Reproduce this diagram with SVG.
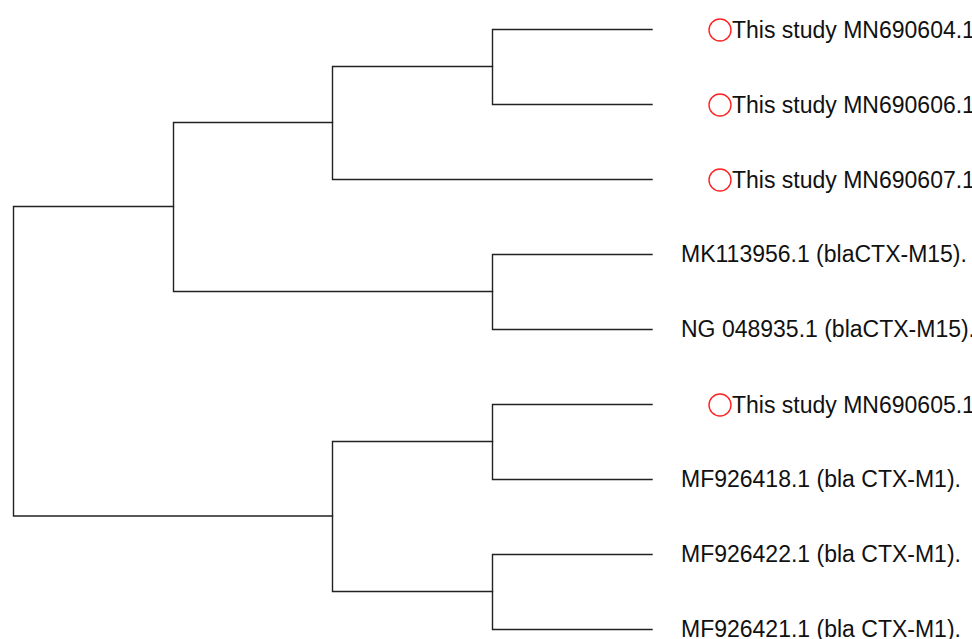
<svg xmlns="http://www.w3.org/2000/svg" width="972" height="639" viewBox="0 0 972 639">
<style>
.e{fill:none;stroke:#222;stroke-width:1.4;stroke-linecap:square}
.t{font-family:"Liberation Sans",Arial,sans-serif;font-size:23px;fill:#111}
.m{fill:none;stroke:#f22;stroke-width:1.4}
</style>
<rect width="972" height="639" fill="#fff"/>
<g id="connectors">
<path class="e" d="M13.5,206.5V516M13.5,206.5H173.5M13.5,516H332.5"/>
<path class="e" d="M173.5,122.5V291.5M173.5,122.5H332.5M173.5,291.5H492.5"/>
<path class="e" d="M332.5,66.5V179.5M332.5,66.5H492.5M332.5,179.5H652"/>
<path class="e" d="M492.5,29.5V104.5M492.5,29.5H652M492.5,104.5H652"/>
<path class="e" d="M492.5,254.5V329.5M492.5,254.5H652M492.5,329.5H652"/>
<path class="e" d="M332.5,441.5V591.5M332.5,441.5H492.5M332.5,591.5H492.5"/>
<path class="e" d="M492.5,404.5V479.5M492.5,404.5H652M492.5,479.5H652"/>
<path class="e" d="M492.5,554.5V629.5M492.5,554.5H652M492.5,629.5H652"/>
</g>
<g id="n1"><circle class="m" cx="720" cy="30" r="11"/><text class="t" x="732" y="37.5">This study MN690604.1</text></g>
<g id="n2"><circle class="m" cx="720" cy="105" r="11"/><text class="t" x="732" y="112.5">This study MN690606.1</text></g>
<g id="n3"><circle class="m" cx="720" cy="180" r="11"/><text class="t" x="732" y="187.5">This study MN690607.1</text></g>
<g id="n4"><text class="t" x="681" y="262">MK113956.1 (blaCTX-M15).</text></g>
<g id="n5"><text class="t" x="681" y="337">NG 048935.1 (blaCTX-M15).</text></g>
<g id="n6"><circle class="m" cx="720" cy="405" r="11"/><text class="t" x="732" y="412.5">This study MN690605.1</text></g>
<g id="n7"><text class="t" x="681" y="487">MF926418.1 (bla CTX-M1).</text></g>
<g id="n8"><text class="t" x="681" y="562">MF926422.1 (bla CTX-M1).</text></g>
<g id="n9"><text class="t" x="681" y="637">MF926421.1 (bla CTX-M1).</text></g>
</svg>
